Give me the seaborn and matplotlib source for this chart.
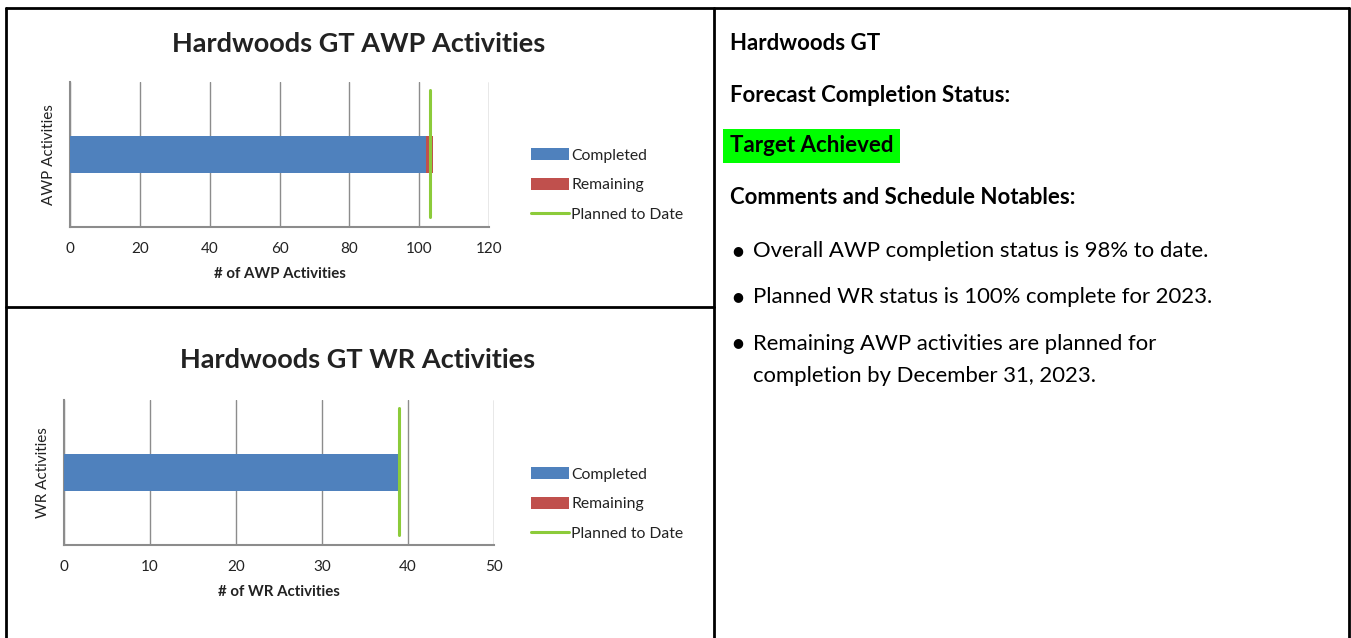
import matplotlib
matplotlib.use("Agg")
import matplotlib.pyplot as plt
from matplotlib.lines import Line2D
from matplotlib.patches import Patch
import seaborn as sns
import pandas as pd

# ---- data ----
awp_category = ["AWP Activities"]
awp_completed = [102]
awp_remaining = [2]
awp_planned = 103
awp_ticks = [0, 20, 40, 60, 80, 100, 120]

wr_category = ["WR Activities"]
wr_completed = [39]
wr_remaining = [0]
wr_planned = 39
wr_ticks = [0, 10, 20, 30, 40, 50]

legend_labels = ["Completed", "Remaining", "Planned to Date"]

right_heading = "Hardwoods GT"
right_status_label = "Forecast Completion Status:"
right_status = "Target Achieved"
right_comments_label = "Comments and Schedule Notables:"
bullets = [
    "Overall AWP completion status is 98% to date.",
    "Planned WR status is 100% complete for 2023.",
    "Remaining AWP activities are planned for\ncompletion by December 31, 2023.",
]

# ---- style ----
sns.set_style("white")
FONT = ["Lato", "DejaVu Sans"]
plt.rcParams["font.family"] = FONT
BLUE = "#4F81BD"
RED = "#C0504D"
GREEN = "#8CCB3A"
GRID = "#8C8C8C"
TXT = "#222222"

W, H = 1351, 638
fig = plt.figure(figsize=(W / 100, H / 100), dpi=100)


def fx(px):
    return px / W


def fy(py):
    return 1 - py / H


def chart(ax, cat, comp, rem, planned, ticks, title, ylabel, xlabel, title_y, title_x, legend_y):
    total = [c + r for c, r in zip(comp, rem)]
    df = pd.DataFrame({"cat": cat, "total": total, "comp": comp})
    sns.barplot(data=df, x="total", y="cat", orient="h", color=RED, width=0.255,
                saturation=1, ax=ax, zorder=3, linewidth=0)
    sns.barplot(data=df, x="comp", y="cat", orient="h", color=BLUE, width=0.255,
                saturation=1, ax=ax, zorder=4, linewidth=0)
    ax.set_ylim(0.5, -0.5)
    ax.set_xlim(ticks[0], ticks[-1])
    ax.set_xticks(ticks)
    ax.set_xticklabels([str(t) for t in ticks], fontsize=11, color=TXT)
    ax.set_yticks([])
    ax.grid(axis="x", color=GRID, linewidth=1.0, zorder=0)
    ax.set_axisbelow(True)
    ax.axvline(planned, ymin=0.07, ymax=0.945, color=GREEN, linewidth=2.2, zorder=5)
    for s in ["top", "right"]:
        ax.spines[s].set_visible(False)
    for s in ["left", "bottom"]:
        ax.spines[s].set_color(GRID)
        ax.spines[s].set_linewidth(1.5)
    ax.tick_params(axis="x", direction="out", length=4, color=GRID, width=1.2, pad=7)
    ax.set_xlabel(xlabel, fontsize=10.8, fontweight="bold", color=TXT, labelpad=8)
    ax.set_ylabel(ylabel, fontsize=11, color=TXT, labelpad=10)
    fig.text(fx(title_x), fy(title_y), title, ha="center", va="center",
             fontsize=19.5, fontweight="bold", color=TXT)
    handles = [Patch(facecolor=BLUE, edgecolor="none"),
               Patch(facecolor=RED, edgecolor="none"),
               Line2D([0], [0], color=GREEN, linewidth=2.2)]
    fig.legend(handles, legend_labels, loc="center left",
               bbox_to_anchor=(fx(517), fy(legend_y)), frameon=False,
               fontsize=11.3, handlelength=2.4, handleheight=0.8, handletextpad=0.15,
               labelspacing=0.95, labelcolor=TXT)


ax1 = fig.add_axes([fx(70), fy(227), fx(489) - fx(70), 145 / H])
chart(ax1, awp_category, awp_completed, awp_remaining, awp_planned, awp_ticks,
      "Hardwoods GT AWP Activities", "AWP Activities", "# of AWP Activities",
      44, 359, 185)

ax2 = fig.add_axes([fx(64), fy(545), fx(494) - fx(64), 145 / H])
chart(ax2, wr_category, wr_completed, wr_remaining, wr_planned, wr_ticks,
      "Hardwoods GT WR Activities", "WR Activities", "# of WR Activities",
      360, 358, 504)

# ---- table borders ----
lw = 2.0
for xs, ys in [((6, 1349), (8, 8)), ((6, 6), (8, 640)), ((1349, 1349), (8, 640)),
               ((714, 714), (8, 640)), ((6, 714), (307, 307))]:
    fig.add_artist(Line2D([fx(xs[0]), fx(xs[1])], [fy(ys[0]), fy(ys[1])],
                          color="black", linewidth=lw, transform=fig.transFigure))

# ---- right text ----
RX = 730
BOLD = 16
BODY = 15.9
fig.text(fx(RX), fy(44), right_heading, fontsize=BOLD, fontweight="bold", va="center", color="black")
fig.text(fx(RX), fy(96), right_status_label, fontsize=BOLD, fontweight="bold", va="center", color="black")
fig.text(fx(RX), fy(146), right_status, fontsize=BOLD, fontweight="bold", va="center", color="black",
         bbox=dict(boxstyle="square,pad=0.3", facecolor="#00FF00", edgecolor="none"))
fig.text(fx(RX), fy(198), right_comments_label, fontsize=BOLD, fontweight="bold", va="center", color="black")
bullet_y = [251, 297, 343]
for by, b in zip(bullet_y, bullets):
    fig.text(fx(738), fy(by), "\u25CF", fontsize=9, ha="center", va="center", color="black",
             family=["DejaVu Sans"])
    if "\n" in b:
        fig.text(fx(753), fy(by - 9), b, fontsize=BODY, va="top", color="black", linespacing=1.72)
    else:
        fig.text(fx(753), fy(by), b, fontsize=BODY, va="center", color="black")

fig.savefig("out.png", dpi=100, facecolor="white")
